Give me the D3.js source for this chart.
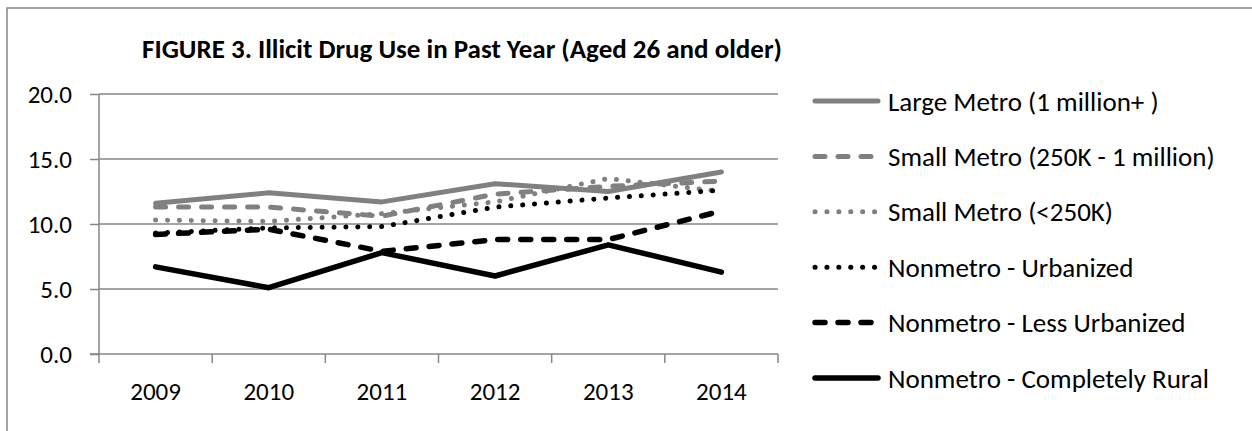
<!DOCTYPE html>
<html>
<head>
<meta charset="utf-8">
<script src="https://cdn.jsdelivr.net/npm/d3@7"></script>
<style>
  body { margin: 0; background: #fff; }
  text { font-family: Carlito, Calibri, Lato, sans-serif; fill: #000; }
</style>
</head>
<body>
<div id="chart"></div>
<script>
// data
var years = ["2009", "2010", "2011", "2012", "2013", "2014"];
var yTicks = [0, 5, 10, 15, 20];

var largeMetro = [11.6, 12.4, 11.7, 13.1, 12.5, 14.0];
var smallMetroMid = [11.3, 11.3, 10.6, 12.3, 12.9, 13.3];
var smallMetroLow = [10.3, 10.2, 10.8, 11.7, 13.5, 12.5];
var nonmetroUrban = [9.3, 9.7, 9.8, 11.3, 12.0, 12.6];
var nonmetroLess = [9.2, 9.6, 7.9, 8.8, 8.8, 11.0];
var nonmetroRural = [6.7, 5.1, 7.8, 6.0, 8.4, 6.3];

var seriesNames = ["Large Metro (1 million+ )", "Small Metro (250K - 1 million)",
  "Small Metro (<250K)", "Nonmetro - Urbanized", "Nonmetro - Less Urbanized",
  "Nonmetro - Completely Rural"];

var W = 1252, H = 431;
var margin = {top: 94, left: 99};
var width = 778 - 99, height = 354 - 94;

var svg = d3.select("#chart").append("svg")
    .attr("width", W)
    .attr("height", H);

// chart border (cropped at right / bottom)
svg.append("rect")
    .attr("x", 7).attr("y", 8)
    .attr("width", 1300).attr("height", 500)
    .attr("fill", "none")
    .attr("stroke", "#868686")
    .attr("stroke-width", 1.5);

svg.append("text")
    .attr("x", 462).attr("y", 48)
    .attr("text-anchor", "middle")
    .attr("dominant-baseline", "central")
    .style("font-weight", "bold")
    .style("font-size", "27px")
    .text("FIGURE 3. Illicit Drug Use in Past Year (Aged 26 and older)");

var g = svg.append("g")
    .attr("transform", "translate(" + margin.left + "," + margin.top + ")");

var xBand = d3.scaleBand().domain(years).range([0, width]);
var x = function(d, i) { return xBand(years[i]) + xBand.bandwidth() / 2; };
var y = d3.scaleLinear().domain([0, 20]).range([height, 0]);

// gridlines
g.selectAll(".grid")
    .data(yTicks.slice(1))
  .enter().append("line")
    .attr("x1", 0).attr("x2", width)
    .attr("y1", function(d) { return y(d); })
    .attr("y2", function(d) { return y(d); })
    .attr("stroke", "#868686")
    .attr("stroke-width", 1.5);

var yAxis = g.append("g")
    .call(d3.axisLeft(y).tickValues(yTicks).tickFormat(d3.format(".1f")).tickSize(9).tickPadding(18));

var xAxis = g.append("g")
    .attr("transform", "translate(0," + height + ")")
    .call(d3.axisBottom(xBand).tickSize(0).tickPadding(38));

// category boundary ticks
g.append("g").selectAll("line")
    .data(d3.range(years.length + 1))
  .enter().append("line")
    .attr("x1", function(i) { return i * xBand.step(); })
    .attr("x2", function(i) { return i * xBand.step(); })
    .attr("y1", height).attr("y2", height + 9)
    .attr("stroke", "#868686")
    .attr("stroke-width", 1.5);

[yAxis, xAxis].forEach(function(a) {
  a.selectAll(".domain, .tick line").attr("stroke", "#868686").attr("stroke-width", 1.5);
  a.selectAll("text").style("font-size", "25px").attr("fill", "#000");
});
yAxis.select(".domain").attr("d", "M0," + height + "V0");
xAxis.select(".domain").attr("d", "M-9,0H" + width);
xAxis.selectAll("text").attr("dy", "0.32em");

var styles = [
  {color: "#808080", dash: null, w: 5},
  {color: "#808080", dash: "10 13", w: 5},
  {color: "#808080", dash: "0.1 11.8", w: 5},
  {color: "#000", dash: "0.1 11.8", w: 5},
  {color: "#000", dash: "10 13", w: 5.5},
  {color: "#000", dash: null, w: 5.5}
];
var allSeries = [largeMetro, smallMetroMid, smallMetroLow, nonmetroUrban, nonmetroLess, nonmetroRural];

var line = d3.line()
    .x(function(d, i) { return x(d, i); })
    .y(function(d) { return y(d); });

allSeries.forEach(function(s, k) {
  var st = styles[k];
  g.append("path")
      .datum(s)
      .attr("fill", "none")
      .attr("stroke", st.color)
      .attr("stroke-width", st.w)
      .attr("stroke-linecap", "round")
      .attr("stroke-linejoin", "round")
      .attr("stroke-dasharray", st.dash)
      .attr("d", line);
});

// legend
var legend = svg.append("g");
seriesNames.forEach(function(name, k) {
  var st = styles[k];
  var ly = 101 + k * 55.4;
  legend.append("line")
      .attr("x1", 815).attr("x2", 878)
      .attr("y1", ly).attr("y2", ly)
      .attr("stroke", st.color)
      .attr("stroke-width", st.w)
      .attr("stroke-linecap", "round")
      .attr("stroke-dasharray", st.dash);
  legend.append("text")
      .attr("x", 888).attr("y", ly)
      .attr("dominant-baseline", "central")
      .style("font-size", "27px")
      .text(name);
});
</script>
</body>
</html>
